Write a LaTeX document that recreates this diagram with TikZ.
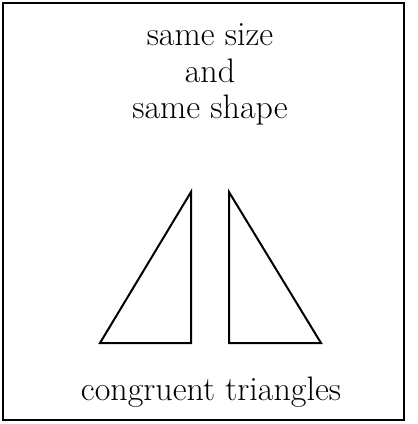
\documentclass[tikz,border=0pt]{standalone}
\tikzset{
  label text/.style={font=\fontsize{34}{40}\selectfont, anchor=base, inner sep=0pt},
  tri/.style={line width=2pt, line join=miter},
  framebox/.style={line width=1.8pt}
}
\begin{document}
\begin{tikzpicture}[x=1pt,y=-1pt]
\useasboundingbox (0,0) rectangle (418,424);
\draw[framebox] (3,3) rectangle (404,420);
\node[label text] (l1) at (210,45) {same size};
\node[label text] (l2) at (210,82) {and};
\node[label text] (l3) at (210,118) {same shape};
\coordinate (a1) at (191,192);
\coordinate (b1) at (100,343);
\coordinate (c1) at (191,343);
\coordinate (a2) at (229,192);
\coordinate (b2) at (229,343);
\coordinate (c2) at (321,343);
\draw[tri] (a1) -- (b1) -- (c1) -- cycle;
\draw[tri] (a2) -- (b2) -- (c2) -- cycle;
\node[label text] (cap) at (211,400) {congruent triangles};
\end{tikzpicture}
\end{document}
